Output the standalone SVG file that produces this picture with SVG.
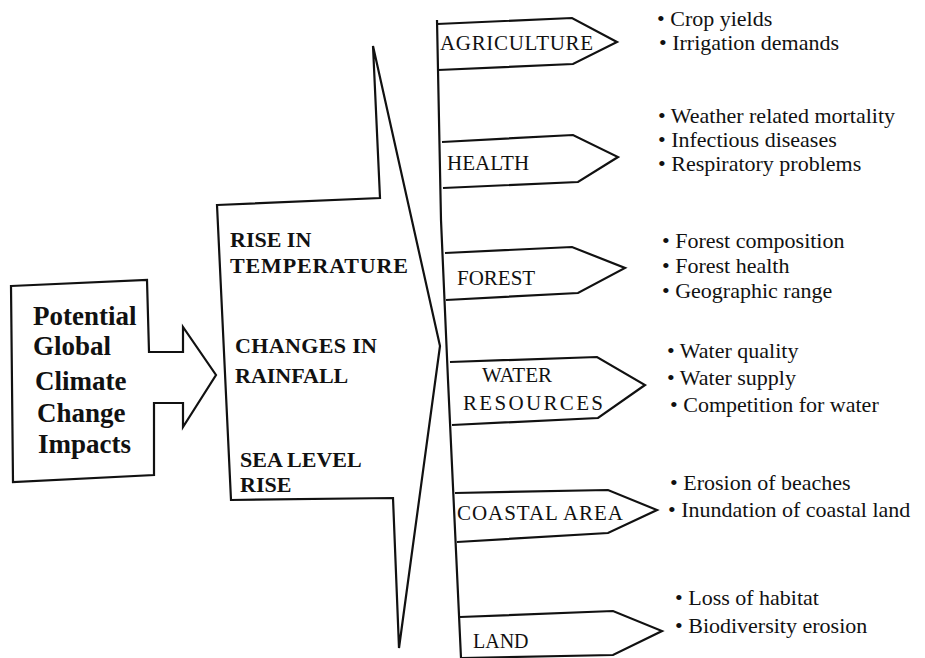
<svg xmlns="http://www.w3.org/2000/svg" width="925" height="658" viewBox="0 0 925 658">
<style>
.ln{fill:#fff;stroke:#111;stroke-width:2.2;stroke-linejoin:miter}
.open{fill:none;stroke:#111;stroke-width:2.2;stroke-linejoin:miter}
text{font-family:"Liberation Serif","Times New Roman",serif;fill:#111}
.big{font-size:27px;font-weight:bold}
.mid{font-size:22px;font-weight:bold}
.lbl{font-size:21px}
.bul{font-size:22px}
</style>
<rect width="925" height="658" fill="#fff"/>
<g id="connectors">
<path class="open" d="M437,20 L441,220 L448,380 L461,658"/>
</g>
<g id="source">
<path class="ln" d="M11,286 L147,280 L149,352 L183,352 L183,327 L216,375 L183,427 L183,403 L154,403 L154,475 L13,482 Z"/>
<text class="big" x="33" y="325">Potential</text>
<text class="big" x="33" y="355">Global</text>
<text class="big" x="35" y="390">Climate</text>
<text class="big" x="37" y="422">Change</text>
<text class="big" x="38" y="453">Impacts</text>
</g>
<g id="drivers">
<path class="ln" d="M217,205 L380,198 L373,46 L440,346 L399,648 L393,498 L231,500 Z"/>
<text class="mid" x="230" y="247">RISE IN</text>
<text class="mid" x="230" y="273" textLength="178">TEMPERATURE</text>
<text class="mid" x="235" y="353" textLength="142">CHANGES IN</text>
<text class="mid" x="235" y="383">RAINFALL</text>
<text class="mid" x="240" y="467">SEA LEVEL</text>
<text class="mid" x="240" y="492">RISE</text>
</g>
<g id="agriculture">
<path class="open" d="M437,24 L572,18 L617,42 L573,64 L438,70"/>
<text class="lbl" x="440" y="50" textLength="153">AGRICULTURE</text>
<text class="bul" x="657" y="26">• Crop yields</text>
<text class="bul" x="659" y="50">• Irrigation demands</text>
</g>
<g id="health">
<path class="open" d="M442,142 L573,135 L618,157 L578,182 L443,188"/>
<text class="lbl" x="447" y="170">HEALTH</text>
<text class="bul" x="658" y="123">• Weather related mortality</text>
<text class="bul" x="658" y="147">• Infectious diseases</text>
<text class="bul" x="658" y="171">• Respiratory problems</text>
</g>
<g id="forest">
<path class="open" d="M445,253 L572,247 L625,268 L578,293 L446,300"/>
<text class="lbl" x="457" y="285">FOREST</text>
<text class="bul" x="662" y="248">• Forest composition</text>
<text class="bul" x="662" y="273">• Forest health</text>
<text class="bul" x="662" y="298">• Geographic range</text>
</g>
<g id="water">
<path class="open" d="M450,362 L597,357 L645,385 L598,418 L452,425"/>
<text class="lbl" x="482" y="382">WATER</text>
<text class="lbl" x="463" y="410" textLength="140">RESOURCES</text>
<text class="bul" x="667" y="358">• Water quality</text>
<text class="bul" x="667" y="385">• Water supply</text>
<text class="bul" x="670" y="412">• Competition for water</text>
</g>
<g id="coastal">
<path class="open" d="M455,493 L608,490 L657,510 L608,533 L457,542"/>
<text class="lbl" x="457" y="520" textLength="166">COASTAL AREA</text>
<text class="bul" x="670" y="490">• Erosion of beaches</text>
<text class="bul" x="668" y="517">• Inundation of coastal land</text>
</g>
<g id="land">
<path class="open" d="M460,617 L613,611 L662,631 L613,655 L461,658"/>
<text class="lbl" x="473" y="648" style="font-size:20px">LAND</text>
<text class="bul" x="675" y="605">• Loss of habitat</text>
<text class="bul" x="675" y="633">• Biodiversity erosion</text>
</g>
</svg>
